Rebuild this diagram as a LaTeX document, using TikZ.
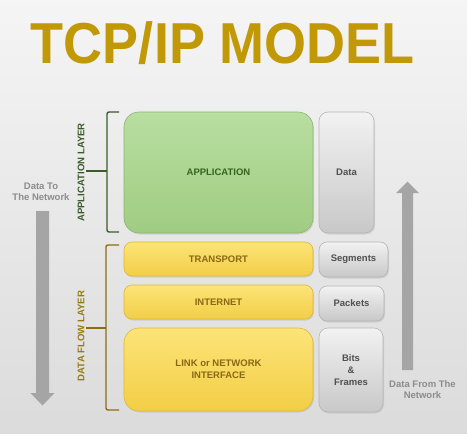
\documentclass[tikz,border=0pt]{standalone}
\usepackage{fontspec}
\setmainfont{Liberation Sans}
\usetikzlibrary{shadows}
\definecolor{titlec}{RGB}{193,152,6}
\definecolor{appc}{RGB}{58,92,40}
\definecolor{flowc}{RGB}{140,108,18}
\definecolor{grntop}{RGB}{184,222,160}
\definecolor{grnbot}{RGB}{160,204,130}
\definecolor{grnline}{RGB}{140,180,115}
\definecolor{grntext}{RGB}{52,100,30}
\definecolor{yeltop}{RGB}{252,228,120}
\definecolor{yelbot}{RGB}{243,206,70}
\definecolor{yelline}{RGB}{222,182,60}
\definecolor{yeltext}{RGB}{135,105,20}
\definecolor{gratop}{RGB}{242,242,242}
\definecolor{grabot}{RGB}{200,200,200}
\definecolor{graline}{RGB}{180,180,180}
\definecolor{gratext}{RGB}{80,80,80}
\definecolor{arrc}{RGB}{165,165,165}
\definecolor{arrtext}{RGB}{140,140,140}
\begin{document}
\begin{tikzpicture}[x=1pt,y=-1pt,
  box/.style={inner sep=0pt, outer sep=0pt, align=center,
    font=\fontsize{9.5}{12}\selectfont\bfseries,
    drop shadow={opacity=0.2, shadow xshift=1pt, shadow yshift=-1.5pt}},
  greenbox/.style={box, rounded corners=15pt, draw=grnline, line width=0.6pt,
    top color=grntop, bottom color=grnbot, text=grntext},
  yellowbox/.style={box, draw=yelline, line width=0.6pt,
    top color=yeltop, bottom color=yelbot, text=yeltext},
  graybox/.style={box, rounded corners=9pt, draw=graline, line width=0.6pt,
    top color=gratop, bottom color=grabot, text=gratext},
  layerlabel/.style={inner sep=0pt, rotate=90, font=\fontsize{9.6}{11}\selectfont\bfseries},
  arrowlabel/.style={inner sep=0pt, align=center, text=arrtext,
    font=\fontsize{9.5}{11.5}\selectfont\bfseries},
  bracket/.style={line width=1.4pt, rounded corners=2pt},
  bigarrow/.style={fill=arrc, draw=none}
]
\useasboundingbox (0,0) rectangle (467,434);
\shade[top color=white!96!black, bottom color=white!86!black] (0,0) rectangle (467,434);

% title
\node[inner sep=0pt, anchor=base, text=titlec] (title) at (223,63)
  {\scalebox{1}[1.07]{\fontsize{54}{54}\selectfont\bfseries TCP/IP MODEL}};

% layer boxes
\node[greenbox, minimum width=189pt, minimum height=121pt] (app) at (218.5,172.5) {APPLICATION};
\node[graybox, minimum width=55pt, minimum height=121pt] (data) at (346.5,172.5) {Data};
\node[yellowbox, rounded corners=8pt, minimum width=189pt, minimum height=34pt] (trans) at (218.5,259) {TRANSPORT};
\node[graybox, rounded corners=8pt, minimum width=69pt, minimum height=35pt] (seg) at (353.5,259.5) {Segments};
\node[yellowbox, rounded corners=8pt, minimum width=189pt, minimum height=34pt] (inet) at (218.5,302) {INTERNET};
\node[graybox, rounded corners=8pt, minimum width=65pt, minimum height=35pt] (pack) at (351.5,303.5) {Packets};
\node[yellowbox, rounded corners=15pt, minimum width=189pt, minimum height=83pt] (link) at (218.5,369.5) {LINK or NETWORK\\INTERFACE};
\node[graybox, minimum width=64pt, minimum height=84pt] (bits) at (351,370) {Bits\\\&\\Frames};

% brackets
\draw[bracket, appc] (119,112) -- (107,112) -- (107,232) -- (119,232);
\draw[bracket, appc] (107,171) -- (86,171);
\draw[bracket, flowc] (119,245) -- (106,245) -- (106,410) -- (119,410);
\draw[bracket, flowc] (106,328) -- (86,328);

% layer labels
\node[layerlabel, text=appc] (applayer) at (81,172.5) {APPLICATION LAYER};
\node[layerlabel, text=flowc!90!yellow] (flowlayer) at (81,336) {DATA FLOW LAYER};

% big arrows
\fill[bigarrow] (36,211) -- (49,211) -- (49,393) -- (54.5,393) -- (42.5,405.5) -- (30.5,393) -- (36,393) -- cycle;
\fill[bigarrow] (402,370) -- (413,370) -- (413,193) -- (419,193) -- (407.5,181.5) -- (396,193) -- (402,193) -- cycle;

% arrow labels
\node[arrowlabel] (tonet) at (41,192) {Data To\\The Network};
\node[arrowlabel] (fromnet) at (422.5,389.5) {Data From The\\Network};
\end{tikzpicture}
\end{document}
